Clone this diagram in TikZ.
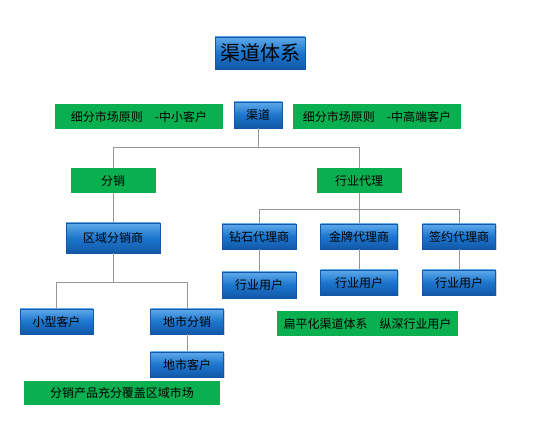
\documentclass[tikz,border=0pt]{standalone}
\usepackage{fontspec}
\setmainfont{Noto Sans CJK SC}
\usetikzlibrary{shadows}
\definecolor{boxblue}{RGB}{28,118,205}
\definecolor{boxbluetop}{RGB}{95,170,235}
\definecolor{boxbluebot}{RGB}{18,88,168}
\definecolor{boxgreen}{RGB}{10,176,80}
\definecolor{linegray}{RGB}{150,150,150}
\tikzset{
  bluebox/.style={rectangle, draw=boxbluebot, line width=0.4pt,
    top color=boxbluetop, bottom color=boxbluebot, middle color=boxblue,
    drop shadow={shadow xshift=1.2pt, shadow yshift=-1.5pt, opacity=0.35},
    font=\fontsize{12}{14}\selectfont, inner sep=0pt},
  greenbox/.style={rectangle, fill=boxgreen, font=\fontsize{12}{14}\selectfont, inner sep=0pt},
  link/.style={draw=linegray, line width=0.7pt}
}
\begin{document}
\begin{tikzpicture}[x=1pt, y=-1pt]
        \useasboundingbox[fill=white] (0,0) rectangle (558,422);
        % top row
        \node[bluebox, minimum width=90, minimum height=32, font=\fontsize{20}{24}\selectfont] (title) at (260,53) {渠道体系};
        \node[greenbox, minimum width=168, minimum height=25] (rule1) at (139,116.5) {细分市场原则\quad -中小客户};
        \node[bluebox, minimum width=48, minimum height=26] (channel) at (258,115) {渠道};
        \node[greenbox, minimum width=168, minimum height=25] (rule2) at (377,116.5) {细分市场原则\quad -中高端客户};
        % second level
        \node[greenbox, minimum width=85, minimum height=25] (fenxiao) at (113,180.5) {分销};
        \node[greenbox, minimum width=85, minimum height=25] (hangye) at (359,180.5) {行业代理};
        % distribution branch
        \node[bluebox, minimum width=94, minimum height=30] (quyu) at (113,238) {区域分销商};
        \node[bluebox, minimum width=73, minimum height=25] (xiaoxing) at (56.5,321.5) {小型客户};
        \node[bluebox, minimum width=73, minimum height=25] (dishi) at (187,321.5) {地市分销};
        \node[bluebox, minimum width=73, minimum height=25] (dishikehu) at (187,364.5) {地市客户};
        \node[greenbox, minimum width=196, minimum height=24] (fugai) at (122,393) {分销产品充分覆盖区域市场};
        % agent branch
        \node[bluebox, minimum width=74, minimum height=25] (zuanshi) at (259,236.5) {钻石代理商};
        \node[bluebox, minimum width=77, minimum height=25] (jinpai) at (359,236.5) {金牌代理商};
        \node[bluebox, minimum width=73, minimum height=25] (qianyue) at (459,236.5) {签约代理商};
        \node[bluebox, minimum width=74, minimum height=26] (user1) at (259,285) {行业用户};
        \node[bluebox, minimum width=77, minimum height=25] (user2) at (359,282.5) {行业用户};
        \node[bluebox, minimum width=73, minimum height=25] (user3) at (459,282.5) {行业用户};
        \node[greenbox, minimum width=181, minimum height=25] (bianping) at (367.5,323.5) {扁平化渠道体系\quad 纵深行业用户};
        % connectors
        \path[link] (channel.south) -- ++(0,19) coordinate (bus1);
        \path[link] (fenxiao.north) |- (bus1) -| (hangye.north);
        \path[link] (fenxiao) -- (quyu);
        \path[link] (quyu.south) -- ++(0,29) coordinate (bus2);
        \path[link] (xiaoxing.north) |- (bus2) -| (dishi.north);
        \path[link] (dishi) -- (dishikehu);
        \path[link] (hangye.south) -- ++(0,16) coordinate (bus3);
        \path[link] (zuanshi.north) |- (bus3) -| (qianyue.north);
        \path[link] (bus3) -- (jinpai.north);
        \path[link] (zuanshi) -- (user1);
        \path[link] (jinpai) -- (user2);
        \path[link] (qianyue) -- (user3);
\end{tikzpicture}
\end{document}
